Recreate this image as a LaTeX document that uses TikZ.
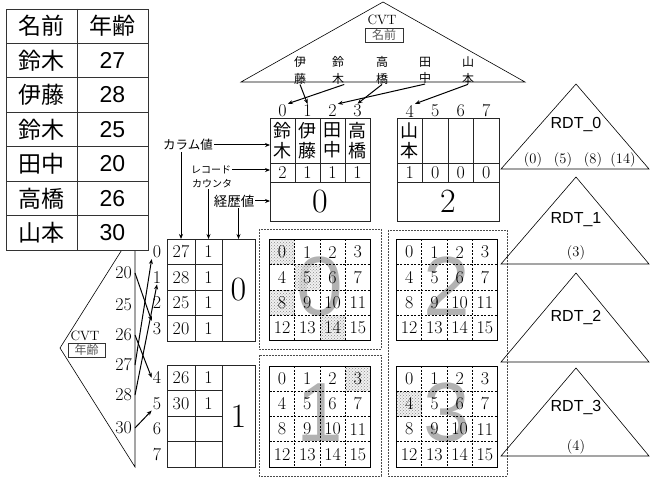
\documentclass[tikz,border=0pt]{standalone}
\usepackage{fontspec}
\usetikzlibrary{arrows.meta,patterns}
\newfontfamily\jp{Noto Sans CJK JP}
\newfontfamily\arial{Liberation Sans}
\tikzset{
  jpT/.style={font=\jp\fontsize{23}{23}\selectfont, inner sep=0pt},
  arT/.style={font=\arial\fontsize{23}{23}\selectfont, inner sep=0pt},
  num/.style={font=\fontsize{18}{18}\selectfont, inner sep=1pt},
  bignum/.style={font=\fontsize{34}{34}\selectfont, inner sep=0pt},
  cell/.style={draw=black!85, line width=0.8pt, inner sep=0pt, outer sep=0pt, anchor=center},
  vname/.style={font=\jp\fontsize{12}{16.5}\selectfont, align=center, inner sep=0pt},
  bname/.style={font=\jp\fontsize{18}{20}\selectfont, align=center, inner sep=0pt},
  lblA/.style={font=\jp\fontsize{12.5}{12.5}\selectfont, inner sep=1pt},
  lblB/.style={font=\jp\fontsize{10}{10}\selectfont, inner sep=1pt},
  lblC/.style={font=\jp\fontsize{13.5}{13.5}\selectfont, inner sep=1pt},
  arr/.style={line width=1pt, -{Stealth[length=5pt,width=4pt]}},
  tri/.style={line width=0.6pt},
  cvt/.style={font=\fontsize{13.5}{13.5}\selectfont, inner sep=0pt},
  cvtbox/.style={draw=black!80, line width=0.6pt, font=\jp\fontsize{12}{12}\selectfont, text=black!65, inner sep=0pt, minimum width=37pt, minimum height=14pt},
  rdt/.style={font=\arial\fontsize{16}{16}\selectfont, inner sep=0pt},
  rpar/.style={font=\fontsize{14.5}{14.5}\selectfont, inner sep=0pt},
  gdig/.style={font=\arial\fontsize{84}{84}\selectfont, text=black!30, inner sep=0pt},
  gline/.style={line width=0.6pt, dash pattern=on 2pt off 1.5pt},
  gouter/.style={line width=0.9pt},
  dotbox/.style={line width=0.6pt, dash pattern=on 1.8pt off 1.2pt, draw=black!70},
}
\begin{document}
\begin{tikzpicture}[x=1pt,y=-1pt]
\useasboundingbox (0,0) rectangle (650,478);
\fill[white] (0,0) rectangle (650,478);

% ---- CVT (age) triangle, drawn under the table
\draw[tri] (135,229) -- (60,348) -- (135,467) -- cycle;
\node[cvt] (cvtA) at (85,336) {CVT};
\node[cvtbox] (cvtAbox) at (86.5,350) {年齢};
\node[num, anchor=east] (a20) at (133,273) {20};
\node[num, anchor=east] (a25) at (133,305) {25};
\node[num, anchor=east] (a26) at (133,335) {26};
\node[num, anchor=east] (a27) at (133,365) {27};
\node[num, anchor=east] (a28) at (133,395) {28};
\node[num, anchor=east] (a30) at (133,428) {30};

% ---- source table
\fill[white] (6,9) rectangle (148,250);
\draw[line width=0.9pt, black!80] (6,9) rectangle (148,250);
\draw[line width=0.9pt, black!80] (77,9) -- (77,250);
\foreach \i in {1,...,6} \draw[line width=0.9pt, black!80] (6,{9+34.43*\i}) -- (148,{9+34.43*\i});
\node[jpT] (h1) at (41.5,26.2) {名前};
\node[jpT] (h2) at (112.5,26.2) {年齢};
\foreach \i/\n/\a in {1/鈴木/27,2/伊藤/28,3/鈴木/25,4/田中/20,5/高橋/26,6/山本/30} {
  \node[jpT] (tn\i) at (41.5,{9+34.43*(\i+0.5)}) {\n};
  \node[arT] (ta\i) at (112.5,{9+34.43*(\i+0.5)}) {\a};
}

% ---- CVT (name) triangle
\draw[tri] (241,82) -- (383,2) -- (525,82) -- cycle;
\node[cvt] (cvtN) at (382,20) {CVT};
\node[cvtbox, minimum width=38pt] (cvtNbox) at (384,35) {名前};
\node[vname] (nI) at (300,70.5) {伊\\藤};
\node[vname] (nS) at (338,70.5) {鈴\\木};
\node[vname] (nT) at (382,70.5) {高\\橋};
\node[vname] (nTa) at (425,70.5) {田\\中};
\node[vname] (nY) at (468,70.5) {山\\本};

% ---- top numbers
\foreach \k/\x in {0/282.5,1/307.5,2/332.5,3/357.5,4/409.75,5/435.25,6/460.75,7/486.25}
  \node[num] (t\k) at (\x,111) {\k};

% ---- block 0 (top)
\foreach \k/\x/\nm/\c in {0/282.5/{鈴\\木}/2,1/307.5/{伊\\藤}/1,2/332.5/{田\\中}/1,3/357.5/{高\\橋}/1} {
  \node[cell, bname, minimum width=25pt, minimum height=45pt] (b0n\k) at (\x,140.5) {\nm};
  \node[cell, num, inner sep=0pt, minimum width=25pt, minimum height=19pt] (b0c\k) at (\x,172.5) {\c};
}
\node[cell, bignum, minimum width=100pt, minimum height=39pt] (b0big) at (320,201.5) {0};
% ---- block 2 (top)
\foreach \k/\x/\nm/\c in {0/409.75/{山\\本}/1,1/435.25/{}/0,2/460.75/{}/0,3/486.25/{}/0} {
  \node[cell, bname, minimum width=25.5pt, minimum height=45pt] (b2n\k) at (\x,140.5) {\nm};
  \node[cell, num, inner sep=0pt, minimum width=25.5pt, minimum height=19pt] (b2c\k) at (\x,172.5) {\c};
}
\node[cell, bignum, minimum width=102pt, minimum height=39pt] (b2big) at (448,201.5) {2};

% ---- block A / B (left)
\foreach \r/\v in {0/27,1/28,2/25,3/20} {
  \node[cell, num, minimum width=28pt, minimum height=25.5pt] (cA\r-1) at (181,{251.75+25.5*\r}) {\v};
  \node[cell, num, minimum width=27pt, minimum height=25.5pt] (cA\r-2) at (208.5,{251.75+25.5*\r}) {1};
  \node[num] (r\r) at (157,{251.75+25.5*\r}) {\r};
}
\node[cell, bignum, minimum width=33pt, minimum height=102pt] (cAbig) at (238.5,290) {0};
\node[cell, num, minimum width=28pt, minimum height=25.5pt] (cB0-1) at (181,377.75) {26};
\node[cell, num, minimum width=27pt, minimum height=25.5pt] (cB0-2) at (208.5,377.75) {1};
\node[cell, num, minimum width=28pt, minimum height=25.5pt] (cB1-1) at (181,403.25) {30};
\node[cell, num, minimum width=27pt, minimum height=25.5pt] (cB1-2) at (208.5,403.25) {1};
\node[cell, num, minimum width=28pt, minimum height=25.5pt] (cB2-1) at (181,428.75) {};
\node[cell, num, minimum width=27pt, minimum height=25.5pt] (cB2-2) at (208.5,428.75) {};
\node[cell, num, minimum width=28pt, minimum height=25.5pt] (cB3-1) at (181,454.25) {};
\node[cell, num, minimum width=27pt, minimum height=25.5pt] (cB3-2) at (208.5,454.25) {};
\node[cell, bignum, minimum width=33pt, minimum height=102pt] (cBbig) at (238.5,416) {1};
\foreach \r in {4,...,7}
  \node[num] (r\r) at (157,{377.75+25.5*(\r-4)}) {\r};

% ---- labels
\node[lblA] (lCol) at (188,145) {カラム値};
\node[lblB] (lRec1) at (211,170) {レコード};
\node[lblB] (lRec2) at (212,184) {カウンタ};
\node[lblC] (lHist) at (234,201) {経歴値};
\draw[arr] (lCol.east) -- (lCol.east -| b0n0.west);
\draw[arr] (lRec1.east) -- (lRec1.east -| b0c0.west);
\draw[arr] (lHist.east) -- (lHist.east -| b0big.west);
\draw[arr] (lCol.south -| cA0-1.north) -- (cA0-1.north);
\draw[arr] (lRec2.south -| cA0-2.north) -- (cA0-2.north);
\draw[arr] (lHist.south -| cAbig.north) -- (cAbig.north);

% ---- name CVT arrows
\draw[arr] (nI.south) -- (t1.north);
\draw[arr] (nS.south east) -- (t0.north east);
\draw[arr] (nT.south) -- (t3.north);
\draw[arr] (nTa.south) -- (t2.north east);
\draw[arr] (nY.south) -- (t4.north east);

% ---- age CVT arrows
\draw[arr] ([xshift=2pt]a20.east) -- (r3.north west);
\draw[arr] ([xshift=2pt]a26.east) -- (r4.west);
\draw[arr] ([xshift=2pt]a27.east) -- (r0.south west);
\draw[arr] ([xshift=2pt]a28.east) -- (r1.south);
\draw[arr] ([xshift=2pt]a30.east) -- (r5.south west);

% ---- grids
\foreach \g/\X/\Y in {0/269.5/239.5,1/269.5/366,2/396.5/239.5,3/396.5/366}
  \node[gdig] (gd\g) at ({\X+50.5},{\Y+47}) {\g};
\foreach \X/\Y in {269.5/239.5,294.75/264.75,269.5/290,320/315.25,345.25/366,396.5/391.25} {
  \fill[black!8, fill opacity=0.7] (\X,\Y) rectangle ++(25.25,25.25);
  \fill[pattern=crosshatch dots, pattern color=black!45] (\X,\Y) rectangle ++(25.25,25.25);
}
\foreach \g/\X/\Y in {0/269.5/239.5,1/269.5/366,2/396.5/239.5,3/396.5/366} {
  \foreach \k in {1,2,3} {
    \draw[gline] ({\X+25.25*\k},\Y) -- ++(0,101);
    \draw[gline] (\X,{\Y+25.25*\k}) -- ++(101,0);
  }
  \draw[gouter] (\X,\Y) rectangle ++(101,101);
  \foreach \n in {0,...,15} {
    \pgfmathtruncatemacro\cc{mod(\n,4)}
    \pgfmathtruncatemacro\rr{floor(\n/4)}
    \node[num] (g\g-\n) at ({\X+25.25*(\cc+0.5)},{\Y+25.25*(\rr+0.5)}) {\n};
  }
}
\draw[dotbox] (259,229) rectangle (381,349);
\draw[dotbox] (259,355) rectangle (381,476);
\draw[dotbox] (388,230) rectangle (507,476);

% ---- RDT triangles
\draw[tri] (501,169) -- (576,84) -- (649,169) -- cycle;
\draw[tri] (501,264) -- (576,177) -- (649,264) -- cycle;
\draw[tri] (501,362) -- (576,273) -- (649,362) -- cycle;
\draw[tri] (501,456) -- (576,368) -- (649,456) -- cycle;
\node[rdt] (rd0) at (576,125) {RDT\_0};
\node[rdt] (rd1) at (576,220) {RDT\_1};
\node[rdt] (rd2) at (576,318) {RDT\_2};
\node[rdt] (rd3) at (576,408) {RDT\_3};
\node[rpar] (p0) at (533,160) {(0)};
\node[rpar] (p5) at (563,160) {(5)};
\node[rpar] (p8) at (593,160) {(8)};
\node[rpar] (p14) at (623,160) {(14)};
\node[rpar] (p3) at (576,253) {(3)};
\node[rpar] (p4) at (576,447) {(4)};
\end{tikzpicture}
\end{document}
